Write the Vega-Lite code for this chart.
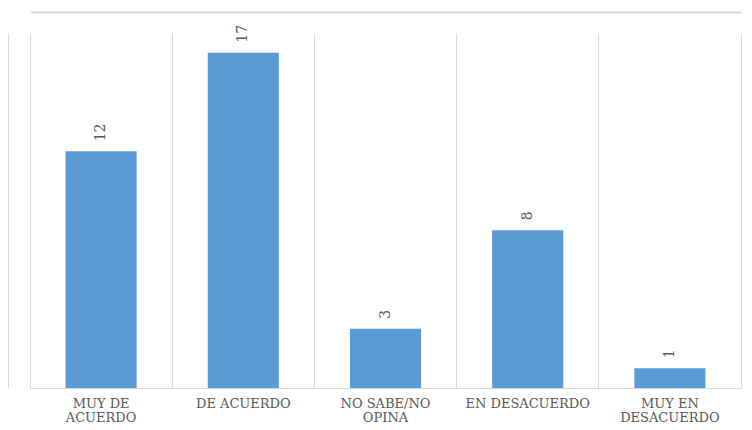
{
  "$schema": "https://vega.github.io/schema/vega-lite/v6.json",
  "width": 711,
  "height": 355,
  "autosize": {"type": "none"},
  "padding": {"left": 30, "top": 33, "right": 11, "bottom": 42},
  "background": "white",
  "config": {"view": {"stroke": null}},
  "data": {
    "values": [
      {"cat": "MUY DE ACUERDO", "n": 12},
      {"cat": "DE ACUERDO", "n": 17},
      {"cat": "NO SABE/NO OPINA", "n": 3},
      {"cat": "EN DESACUERDO", "n": 8},
      {"cat": "MUY EN DESACUERDO", "n": 1}
    ]
  },
  "encoding": {
    "y": {"field": "n", "type": "quantitative", "scale": {"domain": [0, 18], "nice": false}}
  },
  "layer": [
    {
      "mark": {"type": "bar", "color": "#5B9BD5"},
      "encoding": {
        "x": {
          "field": "cat", "type": "nominal", "sort": null,
          "scale": {"paddingInner": 0.5, "paddingOuter": 0.25},
          "axis": {
            "title": null, "labelAngle": 0, "ticks": false,
            "bandPosition": -0.5,
            "grid": true, "gridColor": "#D9D9D9", "gridWidth": 1,
            "domainColor": "#D9D9D9", "domainWidth": 1,
            "labelFont": "DejaVu Serif", "labelFontSize": 13, "labelColor": "#595959",
            "labelPadding": 9, "labelLineHeight": 14,
            "labelExpr": "datum.value == 'MUY DE ACUERDO' ? ['MUY DE', 'ACUERDO'] : datum.value == 'NO SABE/NO OPINA' ? ['NO SABE/NO', 'OPINA'] : datum.value == 'MUY EN DESACUERDO' ? ['MUY EN', 'DESACUERDO'] : datum.value"
          }
        },
        "y": {"field": "n", "type": "quantitative", "axis": {"orient": "right", "title": null, "labels": false, "ticks": false, "grid": false, "domainColor": "#D9D9D9"}}
      }
    },
    {
      "mark": {"type": "text", "angle": -90, "align": "left", "baseline": "middle", "dx": 10, "font": "DejaVu Serif", "fontSize": 14, "color": "#595959"},
      "encoding": {
        "x": {"field": "cat", "type": "nominal", "sort": null, "axis": {"orient": "top", "offset": 21, "title": null, "labels": false, "ticks": false, "grid": false, "domainColor": "#D9D9D9", "domainWidth": 2}},
        "y": {"field": "n", "type": "quantitative", "axis": {"orient": "left", "offset": 22, "title": null, "labels": false, "ticks": false, "grid": false, "domainColor": "#D9D9D9", "domainWidth": 1}},
        "text": {"field": "n", "type": "quantitative"}
      }
    }
  ],
  "resolve": {"axis": {"x": "independent", "y": "independent"}}
}
